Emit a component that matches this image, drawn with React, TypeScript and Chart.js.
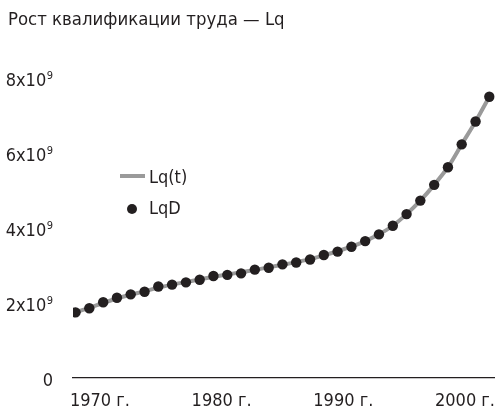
import React, { useEffect, useRef } from "react";
import { Chart, registerables } from "chart.js";

Chart.register(...registerables);

const TITLE = "Рост квалификации труда — Lq";
const LINE_LABEL = "Lq(t)";
const POINT_LABEL = "LqD";

// time points (years)
const years = [
  1968.0, 1969.13, 1970.27, 1971.4, 1972.53, 1973.67, 1974.8, 1975.93, 1977.07, 1978.2,
  1979.33, 1980.47, 1981.6, 1982.73, 1983.87, 1985.0, 1986.13, 1987.27, 1988.4, 1989.53,
  1990.67, 1991.8, 1992.93, 1994.07, 1995.2, 1996.33, 1997.47, 1998.6, 1999.73, 2000.87,
  2002.0,
];

// LqD values, units of 10^9
const lqD = [
  1.75, 1.86, 2.02, 2.14, 2.23, 2.3, 2.44, 2.49, 2.55, 2.62,
  2.72, 2.75, 2.79, 2.89, 2.94, 3.03, 3.08, 3.16, 3.28, 3.37,
  3.5, 3.65, 3.83, 4.06, 4.37, 4.73, 5.15, 5.62, 6.23, 6.84,
  7.5,
];

// Lq(t) model curve, units of 10^9
const lqT = [
  1.75, 1.87, 2.0, 2.12, 2.22, 2.31, 2.41, 2.49, 2.56, 2.63,
  2.7, 2.76, 2.82, 2.88, 2.95, 3.02, 3.09, 3.17, 3.27, 3.38,
  3.5, 3.65, 3.83, 4.06, 4.37, 4.73, 5.15, 5.62, 6.23, 6.84,
  7.5,
];

const xTicks = [1970, 1980, 1990, 2000];
const yTicks = [0, 2, 4, 6, 8];

const FONT = "'Liberation Sans Narrow', 'DejaVu Sans Condensed', sans-serif";
const FS = 18;
const TEXT = "#231f20";
const LINE_COLOR = "#9a9a9a";
const DOT_COLOR = "#231f20";

const legendPlugin = {
  id: "innerLegend",
  afterDraw(chart: any) {
    const ctx = chart.ctx;
    ctx.save();
    ctx.strokeStyle = LINE_COLOR;
    ctx.lineWidth = 4;
    ctx.beginPath();
    ctx.moveTo(120, 176);
    ctx.lineTo(145, 176);
    ctx.stroke();
    ctx.fillStyle = DOT_COLOR;
    ctx.beginPath();
    ctx.arc(132, 209, 5, 0, Math.PI * 2);
    ctx.fill();
    ctx.fillStyle = TEXT;
    ctx.font = `${FS}px ${FONT}`;
    ctx.textAlign = "left";
    ctx.textBaseline = "alphabetic";
    ctx.fillText(LINE_LABEL, 149, 183);
    ctx.fillText(POINT_LABEL, 149, 214);
    ctx.restore();
  },
};

// y tick labels with real superscript exponent
const yLabelPlugin = {
  id: "yLabels",
  afterDraw(chart: any) {
    const ctx = chart.ctx;
    const scale = chart.scales.y;
    const right = scale.right - 20;
    ctx.save();
    ctx.fillStyle = TEXT;
    ctx.textBaseline = "alphabetic";
    yTicks.forEach((t) => {
      const py = scale.getPixelForValue(t * 1e9);
      const base = py + 8;
      if (t === 0) {
        ctx.font = `${FS}px ${FONT}`;
        ctx.textAlign = "right";
        ctx.fillText("0", right, base);
        return;
      }
      ctx.font = `11px ${FONT}`;
      const sup = "9";
      const supW = ctx.measureText(sup).width;
      ctx.textAlign = "left";
      ctx.fillText(sup, right - supW, base - 7);
      ctx.font = `${FS}px ${FONT}`;
      ctx.textAlign = "right";
      ctx.fillText(`${t}x10`, right - supW - 0.5, base);
    });
    ctx.restore();
  },
};

export default function App() {
  const ref = useRef<HTMLCanvasElement>(null);

  useEffect(() => {
    if (!ref.current) return;
    const chart = new Chart(ref.current, {
      type: "line",
      data: {
        datasets: [
          {
            label: POINT_LABEL,
            data: years.map((x, i) => ({ x, y: lqD[i] * 1e9 })),
            showLine: false,
            pointRadius: 5.2,
            pointBackgroundColor: DOT_COLOR,
            pointBorderWidth: 0,
            order: 0,
          },
          {
            label: LINE_LABEL,
            data: years.map((x, i) => ({ x, y: lqT[i] * 1e9 })),
            borderColor: LINE_COLOR,
            borderWidth: 4,
            pointRadius: 0,
            tension: 0.3,
            fill: false,
            order: 1,
          },
        ],
      },
      options: {
        animation: false,
        responsive: false,
        layout: { padding: { left: 8, right: 3, top: 0, bottom: 0 } },
        plugins: {
          legend: { display: false },
          tooltip: { enabled: false },
          title: {
            display: true,
            text: TITLE,
            align: "start",
            color: TEXT,
            font: { family: FONT, size: 18.4, weight: "normal", lineHeight: 1.2 },
            padding: { top: 9.5, bottom: 46.4 },
          },
        },
        scales: {
          x: {
            type: "linear",
            min: 1967.79,
            max: 2002.45,
            grid: { display: false, drawTicks: false },
            border: { display: true, color: TEXT, width: 1.2 },
            afterBuildTicks: (s: any) => {
              s.ticks = xTicks.map((v) => ({ value: v }));
            },
            afterFit: (s: any) => {
              s.height = 34;
              s.paddingLeft = 0;
              s.paddingRight = 0;
            },
            ticks: {
              padding: 12.5,
              color: TEXT,
              font: { family: FONT, size: FS },
              maxRotation: 0,
              autoSkip: false,
              callback: (v: any) => `${v} г.`,
            },
          },
          y: {
            min: 0,
            max: 8e9,
            grid: { display: false, drawTicks: false },
            border: { display: false },
            afterBuildTicks: (s: any) => {
              s.ticks = yTicks.map((v) => ({ value: v * 1e9 }));
            },
            afterFit: (s: any) => {
              s.width = 65;
              s.paddingTop = 0;
              s.paddingBottom = 0;
            },
            ticks: { display: false },
          },
        },
      },
      plugins: [legendPlugin, yLabelPlugin],
    });
    return () => chart.destroy();
  }, []);

  return (
    <div style={{ position: "absolute", left: 0, top: 0, width: 500, height: 412, background: "#fff" }}>
      <canvas ref={ref} width={500} height={412} />
    </div>
  );
}
